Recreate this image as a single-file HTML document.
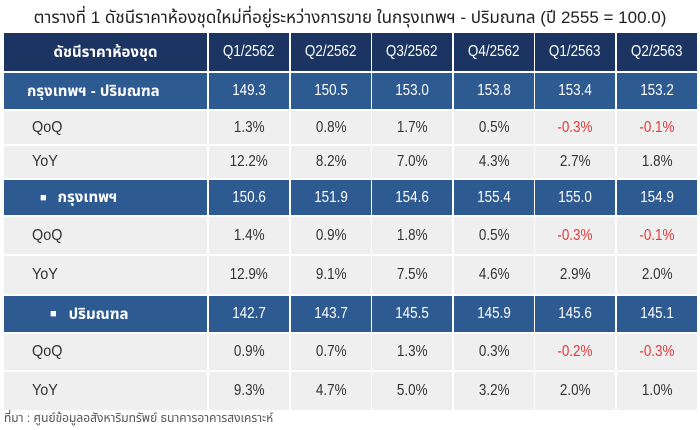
<!DOCTYPE html>
<html>
<head>
<meta charset="utf-8">
<style>
  html,body{margin:0;padding:0;background:#fff;}
  body{width:700px;height:430px;position:relative;overflow:hidden;
    font-family:"Liberation Sans","Noto Sans Thai","Noto Sans CJK SC",sans-serif;}
  .title{position:absolute;left:0;top:5px;width:700px;text-align:center;
    font-size:17px;color:#222;line-height:26px;white-space:nowrap;}
  .cell{position:absolute;display:flex;align-items:center;justify-content:center;
    white-space:nowrap;overflow:visible;}
  .hd{background:#1c3462;color:#fff;}
  .bl{background:#2e5a92;color:#fff;}
  .lt{background:#efefef;color:#333;}
  .num{font-size:16px;}
  .num span{display:inline-block;transform:scaleX(0.84);}
  .neg{color:#e0393b;}
  .lab{justify-content:flex-start;font-size:16px;}
  .thb{font-weight:bold;font-size:15px;color:#fff;}
  .src{position:absolute;left:4px;top:410px;font-size:12px;color:#555;white-space:nowrap;}
</style>
</head>
<body>
<div class="title">ตารางที่ 1 ดัชนีราคาห้องชุดใหม่ที่อยู่ระหว่างการขาย ในกรุงเทพฯ - ปริมณฑล (ปี 2555 = 100.0)</div>

<!-- header row 33-71 -->
<div class="cell hd thb" style="left:4px;top:33px;width:203px;height:38px;">ดัชนีราคาห้องชุด</div>
<div class="cell hd num" style="left:209px;top:33px;width:80px;height:38px;"><span>Q1/2562</span></div>
<div class="cell hd num" style="left:291px;top:33px;width:80px;height:38px;"><span>Q2/2562</span></div>
<div class="cell hd num" style="left:372px;top:33px;width:80px;height:38px;"><span>Q3/2562</span></div>
<div class="cell hd num" style="left:454px;top:33px;width:80px;height:38px;"><span>Q4/2562</span></div>
<div class="cell hd num" style="left:535px;top:33px;width:80px;height:38px;"><span>Q1/2563</span></div>
<div class="cell hd num" style="left:617px;top:33px;width:80px;height:38px;"><span>Q2/2563</span></div>

<!-- r1 blue 73-109 -->
<div class="cell bl lab thb" style="left:4px;top:73px;width:203px;height:36px;padding-left:23px;box-sizing:border-box;">กรุงเทพฯ - ปริมณฑล</div>
<div class="cell bl num" style="left:209px;top:73px;width:80px;height:36px;"><span>149.3</span></div>
<div class="cell bl num" style="left:291px;top:73px;width:80px;height:36px;"><span>150.5</span></div>
<div class="cell bl num" style="left:372px;top:73px;width:80px;height:36px;"><span>153.0</span></div>
<div class="cell bl num" style="left:454px;top:73px;width:80px;height:36px;"><span>153.8</span></div>
<div class="cell bl num" style="left:535px;top:73px;width:80px;height:36px;"><span>153.4</span></div>
<div class="cell bl num" style="left:617px;top:73px;width:80px;height:36px;"><span>153.2</span></div>

<!-- r2 QoQ 111-144 -->
<div class="cell lt lab" style="left:4px;top:111px;width:203px;height:33px;padding-left:28px;box-sizing:border-box;"><span style="display:inline-block;transform:scaleX(0.9);transform-origin:left;">QoQ</span></div>
<div class="cell lt num" style="left:209px;top:111px;width:80px;height:33px;"><span>1.3%</span></div>
<div class="cell lt num" style="left:291px;top:111px;width:80px;height:33px;"><span>0.8%</span></div>
<div class="cell lt num" style="left:372px;top:111px;width:80px;height:33px;"><span>1.7%</span></div>
<div class="cell lt num" style="left:454px;top:111px;width:80px;height:33px;"><span>0.5%</span></div>
<div class="cell lt num neg" style="left:535px;top:111px;width:80px;height:33px;"><span>-0.3%</span></div>
<div class="cell lt num neg" style="left:617px;top:111px;width:80px;height:33px;"><span>-0.1%</span></div>

<!-- r3 YoY 146-178 -->
<div class="cell lt lab" style="left:4px;top:146px;width:203px;height:32px;padding-left:28px;box-sizing:border-box;"><span style="display:inline-block;transform:scaleX(0.9);transform-origin:left;">YoY</span></div>
<div class="cell lt num" style="left:209px;top:146px;width:80px;height:32px;"><span>12.2%</span></div>
<div class="cell lt num" style="left:291px;top:146px;width:80px;height:32px;"><span>8.2%</span></div>
<div class="cell lt num" style="left:372px;top:146px;width:80px;height:32px;"><span>7.0%</span></div>
<div class="cell lt num" style="left:454px;top:146px;width:80px;height:32px;"><span>4.3%</span></div>
<div class="cell lt num" style="left:535px;top:146px;width:80px;height:32px;"><span>2.7%</span></div>
<div class="cell lt num" style="left:617px;top:146px;width:80px;height:32px;"><span>1.8%</span></div>

<!-- r4 blue 180-215 -->
<div class="cell bl lab thb" style="left:4px;top:180px;width:203px;height:35px;padding-left:36px;box-sizing:border-box;"><span style="font-size:11px;margin-right:11px;">■</span>กรุงเทพฯ</div>
<div class="cell bl num" style="left:209px;top:180px;width:80px;height:35px;"><span>150.6</span></div>
<div class="cell bl num" style="left:291px;top:180px;width:80px;height:35px;"><span>151.9</span></div>
<div class="cell bl num" style="left:372px;top:180px;width:80px;height:35px;"><span>154.6</span></div>
<div class="cell bl num" style="left:454px;top:180px;width:80px;height:35px;"><span>155.4</span></div>
<div class="cell bl num" style="left:535px;top:180px;width:80px;height:35px;"><span>155.0</span></div>
<div class="cell bl num" style="left:617px;top:180px;width:80px;height:35px;"><span>154.9</span></div>

<!-- r5 QoQ 217-254 -->
<div class="cell lt lab" style="left:4px;top:217px;width:203px;height:37px;padding-left:28px;box-sizing:border-box;"><span style="display:inline-block;transform:scaleX(0.9);transform-origin:left;">QoQ</span></div>
<div class="cell lt num" style="left:209px;top:217px;width:80px;height:37px;"><span>1.4%</span></div>
<div class="cell lt num" style="left:291px;top:217px;width:80px;height:37px;"><span>0.9%</span></div>
<div class="cell lt num" style="left:372px;top:217px;width:80px;height:37px;"><span>1.8%</span></div>
<div class="cell lt num" style="left:454px;top:217px;width:80px;height:37px;"><span>0.5%</span></div>
<div class="cell lt num neg" style="left:535px;top:217px;width:80px;height:37px;"><span>-0.3%</span></div>
<div class="cell lt num neg" style="left:617px;top:217px;width:80px;height:37px;"><span>-0.1%</span></div>

<!-- r6 YoY 256-294 -->
<div class="cell lt lab" style="left:4px;top:256px;width:203px;height:38px;padding-left:28px;box-sizing:border-box;"><span style="display:inline-block;transform:scaleX(0.9);transform-origin:left;">YoY</span></div>
<div class="cell lt num" style="left:209px;top:256px;width:80px;height:38px;"><span>12.9%</span></div>
<div class="cell lt num" style="left:291px;top:256px;width:80px;height:38px;"><span>9.1%</span></div>
<div class="cell lt num" style="left:372px;top:256px;width:80px;height:38px;"><span>7.5%</span></div>
<div class="cell lt num" style="left:454px;top:256px;width:80px;height:38px;"><span>4.6%</span></div>
<div class="cell lt num" style="left:535px;top:256px;width:80px;height:38px;"><span>2.9%</span></div>
<div class="cell lt num" style="left:617px;top:256px;width:80px;height:38px;"><span>2.0%</span></div>

<!-- r7 blue 296-332 -->
<div class="cell bl lab thb" style="left:4px;top:296px;width:203px;height:36px;padding-left:46px;box-sizing:border-box;"><span style="font-size:11px;margin-right:12px;">■</span>ปริมณฑล</div>
<div class="cell bl num" style="left:209px;top:296px;width:80px;height:36px;"><span>142.7</span></div>
<div class="cell bl num" style="left:291px;top:296px;width:80px;height:36px;"><span>143.7</span></div>
<div class="cell bl num" style="left:372px;top:296px;width:80px;height:36px;"><span>145.5</span></div>
<div class="cell bl num" style="left:454px;top:296px;width:80px;height:36px;"><span>145.9</span></div>
<div class="cell bl num" style="left:535px;top:296px;width:80px;height:36px;"><span>145.6</span></div>
<div class="cell bl num" style="left:617px;top:296px;width:80px;height:36px;"><span>145.1</span></div>

<!-- r8 QoQ 334-370 -->
<div class="cell lt lab" style="left:4px;top:334px;width:203px;height:36px;padding-left:28px;box-sizing:border-box;"><span style="display:inline-block;transform:scaleX(0.9);transform-origin:left;">QoQ</span></div>
<div class="cell lt num" style="left:209px;top:334px;width:80px;height:36px;"><span>0.9%</span></div>
<div class="cell lt num" style="left:291px;top:334px;width:80px;height:36px;"><span>0.7%</span></div>
<div class="cell lt num" style="left:372px;top:334px;width:80px;height:36px;"><span>1.3%</span></div>
<div class="cell lt num" style="left:454px;top:334px;width:80px;height:36px;"><span>0.3%</span></div>
<div class="cell lt num neg" style="left:535px;top:334px;width:80px;height:36px;"><span>-0.2%</span></div>
<div class="cell lt num neg" style="left:617px;top:334px;width:80px;height:36px;"><span>-0.3%</span></div>

<!-- r9 YoY 372-410 -->
<div class="cell lt lab" style="left:4px;top:372px;width:203px;height:38px;padding-left:28px;box-sizing:border-box;"><span style="display:inline-block;transform:scaleX(0.9);transform-origin:left;">YoY</span></div>
<div class="cell lt num" style="left:209px;top:372px;width:80px;height:38px;"><span>9.3%</span></div>
<div class="cell lt num" style="left:291px;top:372px;width:80px;height:38px;"><span>4.7%</span></div>
<div class="cell lt num" style="left:372px;top:372px;width:80px;height:38px;"><span>5.0%</span></div>
<div class="cell lt num" style="left:454px;top:372px;width:80px;height:38px;"><span>3.2%</span></div>
<div class="cell lt num" style="left:535px;top:372px;width:80px;height:38px;"><span>2.0%</span></div>
<div class="cell lt num" style="left:617px;top:372px;width:80px;height:38px;"><span>1.0%</span></div>

<div class="src">ที่มา : ศูนย์ข้อมูลอสังหาริมทรัพย์ ธนาคารอาคารสงเคราะห์</div>
</body>
</html>
